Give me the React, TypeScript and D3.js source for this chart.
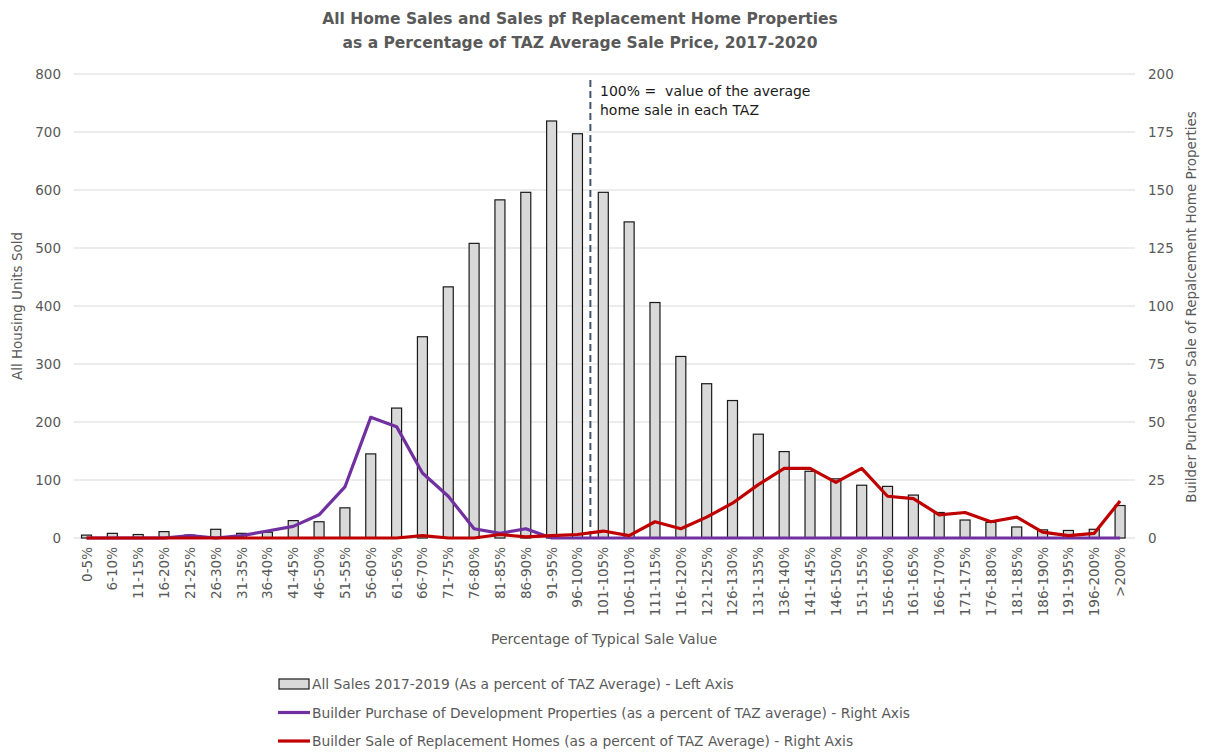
import * as d3 from 'd3';
import React, { useEffect, useRef } from 'react';

const categories = [
  '0-5%', '6-10%', '11-15%', '16-20%', '21-25%', '26-30%', '31-35%', '36-40%', '41-45%', '46-50%',
  '51-55%', '56-60%', '61-65%', '66-70%', '71-75%', '76-80%', '81-85%', '86-90%', '91-95%', '96-100%',
  '101-105%', '106-110%', '111-115%', '116-120%', '121-125%', '126-130%', '131-135%', '136-140%', '141-145%', '146-150%',
  '151-155%', '156-160%', '161-165%', '166-170%', '171-175%', '176-180%', '181-185%', '186-190%', '191-195%', '196-200%',
  '>200%'
];

// left axis: all sales 2017-2019
const allSales = [
  5, 8, 6, 11, 5, 15, 8, 10, 30, 28,
  52, 145, 224, 347, 433, 508, 583, 596, 719, 697,
  596, 545, 406, 313, 266, 237, 179, 149, 115, 102,
  91, 89, 74, 44, 31, 27, 19, 14, 13, 15,
  56
];

// right axis: builder purchases
const builderPurchase = [
  0, 0, 0, 0, 1, 0, 1, 3, 5, 10,
  22, 52, 48, 28, 18, 4, 2, 4, 0, 0,
  0, 0, 0, 0, 0, 0, 0, 0, 0, 0,
  0, 0, 0, 0, 0, 0, 0, 0, 0, 0,
  0
];

// right axis: builder sales of replacement homes
const builderSale = [
  0, 0, 0, 0, 0, 0, 0, 0, 0, 0,
  0, 0, 0, 1, 0, 0, 1.5, 0.5, 1, 1.5,
  3, 1, 7, 4, 9, 15, 23, 30, 30, 24,
  30, 18, 17, 10, 11, 7, 9, 2.5, 1, 2,
  16
];

const leftTicks = [0, 100, 200, 300, 400, 500, 600, 700, 800];
const rightTicks = [0, 25, 50, 75, 100, 125, 150, 175, 200];

const FONT = '"DejaVu Sans", sans-serif';
const GREY = '#595959';

function App() {
  const ref = useRef<SVGSVGElement>(null);

  useEffect(() => {
    document.body.style.margin = '0';
    const svg = d3.select(ref.current);
    svg.selectAll('*').remove();

    const left = 73.6, right = 1133, top = 74, bottom = 538;

    const x = d3.scaleBand().domain(categories).range([left, right]);
    const yL = d3.scaleLinear().domain([0, 800]).range([bottom, top]);
    const yR = d3.scaleLinear().domain([0, 200]).range([bottom, top]);

    const g = svg.append('g').attr('font-family', FONT);

    // gridlines
    g.append('g')
      .selectAll('line')
      .data(leftTicks)
      .enter().append('line')
      .attr('x1', left).attr('x2', right + 2)
      .attr('y1', d => yL(d)).attr('y2', d => yL(d))
      .attr('stroke', '#d9d9d9').attr('stroke-width', 1);

    // left tick labels
    g.append('g')
      .selectAll('text')
      .data(leftTicks)
      .enter().append('text')
      .attr('x', 61).attr('y', d => yL(d) + 5)
      .attr('text-anchor', 'end')
      .attr('font-size', 13.5).attr('fill', GREY)
      .text(d => d);

    // right tick labels
    g.append('g')
      .selectAll('text')
      .data(rightTicks)
      .enter().append('text')
      .attr('x', 1148).attr('y', d => yR(d) + 5)
      .attr('font-size', 13.5).attr('fill', GREY)
      .text(d => d);

    // bars
    const bw = 10;
    g.append('g')
      .selectAll('rect')
      .data(allSales)
      .enter().append('rect')
      .attr('x', (d, i) => x(categories[i])! + x.bandwidth() / 2 - bw / 2)
      .attr('y', d => yL(d))
      .attr('width', bw)
      .attr('height', d => bottom - yL(d))
      .attr('fill', '#d9d9d9')
      .attr('stroke', '#1a1a1a')
      .attr('stroke-width', 1.2);

    // dashed 100% line
    const xDash = x('101-105%')!;
    g.append('line')
      .attr('x1', xDash).attr('x2', xDash)
      .attr('y1', 80).attr('y2', bottom)
      .attr('stroke', '#44546a').attr('stroke-width', 2)
      .attr('stroke-dasharray', '7,4');

    g.append('text')
      .attr('x', 600).attr('y', 96)
      .attr('font-size', 14).attr('fill', '#1a1a1a')
      .attr('xml:space', 'preserve')
      .text('100% =  value of the average');
    g.append('text')
      .attr('x', 600).attr('y', 115)
      .attr('font-size', 14).attr('fill', '#1a1a1a')
      .text('home sale in each TAZ');

    const line = (vals: number[]) =>
      d3.line<number>()
        .x((d, i) => x(categories[i])! + x.bandwidth() / 2)
        .y(d => yR(d))(vals);

    g.append('path')
      .attr('d', line(builderPurchase))
      .attr('fill', 'none').attr('stroke', '#7030a0').attr('stroke-width', 3.2)
      .attr('stroke-linejoin', 'round');

    g.append('path')
      .attr('d', line(builderSale))
      .attr('fill', 'none').attr('stroke', '#c00000').attr('stroke-width', 3.2)
      .attr('stroke-linejoin', 'round');

    // x labels
    g.append('g')
      .selectAll('text')
      .data(categories)
      .enter().append('text')
      .attr('transform', d => `translate(${x(d)! + x.bandwidth() / 2 + 5},547) rotate(-90)`)
      .attr('text-anchor', 'end')
      .attr('font-size', 13.5).attr('fill', GREY)
      .text(d => d);

    // axis titles
    g.append('text')
      .attr('x', 604).attr('y', 644)
      .attr('text-anchor', 'middle')
      .attr('font-size', 14).attr('fill', GREY)
      .text('Percentage of Typical Sale Value');

    g.append('text')
      .attr('transform', `translate(22,306) rotate(-90)`)
      .attr('text-anchor', 'middle')
      .attr('font-size', 13.5).attr('fill', GREY)
      .text('All Housing Units Sold');

    g.append('text')
      .attr('transform', `translate(1196,307) rotate(-90)`)
      .attr('text-anchor', 'middle')
      .attr('font-size', 13.5).attr('fill', GREY)
      .text('Builder Purchase or Sale of Repalcement Home Properties');

    // title
    g.append('text')
      .attr('x', 580).attr('y', 24)
      .attr('text-anchor', 'middle')
      .attr('font-size', 15.5).attr('font-weight', 'bold').attr('fill', GREY)
      .text('All Home Sales and Sales pf Replacement Home Properties');
    g.append('text')
      .attr('x', 580).attr('y', 48)
      .attr('text-anchor', 'middle')
      .attr('font-size', 15.5).attr('font-weight', 'bold').attr('fill', GREY)
      .text('as a Percentage of TAZ Average Sale Price, 2017-2020');

    // legend
    const legend = [
      { label: 'All Sales 2017-2019 (As a percent of TAZ Average) - Left Axis', type: 'bar', color: '#d9d9d9' },
      { label: 'Builder Purchase of Development Properties (as a percent of TAZ average) - Right Axis', type: 'line', color: '#7030a0' },
      { label: 'Builder Sale of Replacement Homes (as a percent of TAZ Average) - Right Axis', type: 'line', color: '#c00000' }
    ];
    const lg = g.append('g');
    legend.forEach((item, i) => {
      const ly = 684 + i * 28.5;
      if (item.type === 'bar') {
        lg.append('rect')
          .attr('x', 279).attr('y', ly - 5).attr('width', 30).attr('height', 10)
          .attr('fill', item.color).attr('stroke', '#1a1a1a').attr('stroke-width', 1.2);
      } else {
        lg.append('line')
          .attr('x1', 278).attr('x2', 310).attr('y1', ly).attr('y2', ly)
          .attr('stroke', item.color).attr('stroke-width', 3.2);
      }
      lg.append('text')
        .attr('x', 312).attr('y', ly + 5)
        .attr('font-size', 13.8).attr('fill', GREY)
        .text(item.label);
    });
  }, []);

  return <svg ref={ref} width={1206} height={752} style={{ display: 'block' }}></svg>;
}

export default App;
